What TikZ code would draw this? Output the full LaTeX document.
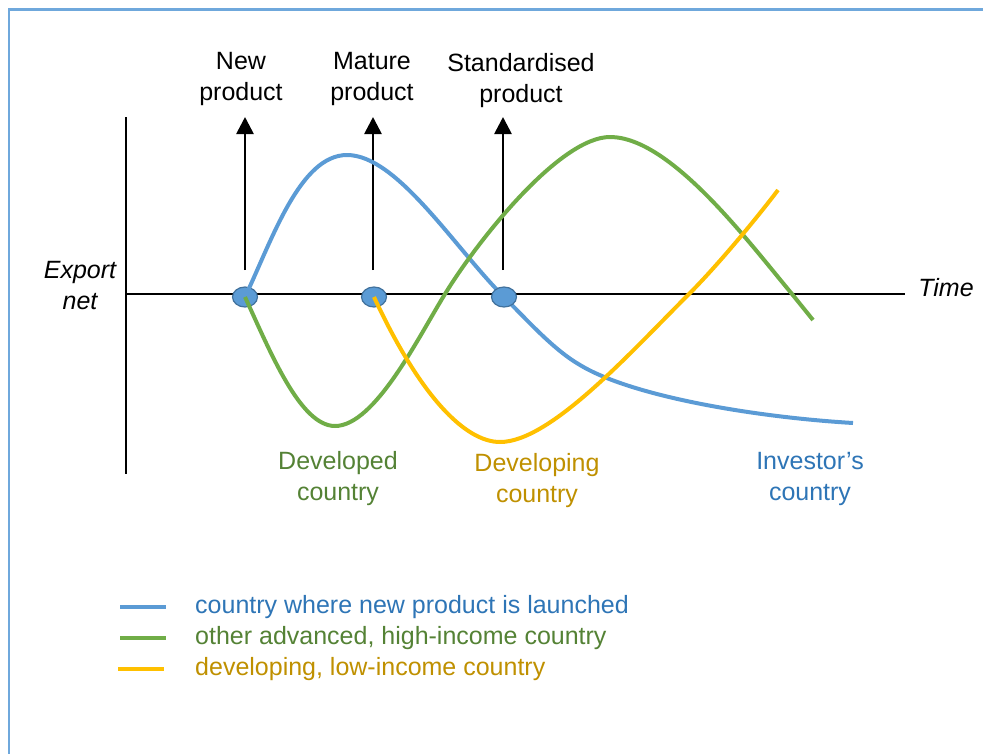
\documentclass[tikz,border=0pt]{standalone}
\usepackage{fontspec}
\setmainfont{Liberation Sans}
\usepackage{xcolor}
\usetikzlibrary{arrows.meta}
\usetikzlibrary{shapes.geometric}

\definecolor{lineblue}{HTML}{5B9BD5}
\definecolor{linegreen}{HTML}{70AD47}
\definecolor{lineyellow}{HTML}{FFC000}
\definecolor{textblue}{HTML}{2E75B6}
\definecolor{textgreen}{HTML}{548235}
\definecolor{textgold}{HTML}{BF9000}
\definecolor{dotedge}{HTML}{41719C}
\definecolor{framecol}{HTML}{6FA8DC}

\begin{document}
\begin{tikzpicture}[x=1pt,y=-1pt,font=\fontsize{25}{31}\selectfont,
	axis/.style={black,line width=2.7pt},
	stage/.style={-{Triangle[width=17pt,length=17pt]},black,line width=2.7pt},
	curve/.style={line width=4pt},
	dot/.style={ellipse,draw=dotedge,fill=lineblue,line width=1.2pt,minimum width=25pt,minimum height=20pt,inner sep=0pt},
	lbl/.style={align=center,inner sep=0pt}]
	\useasboundingbox (0,0) rectangle (983,753);
	\draw[framecol,line width=2.6pt] (9,760) -- (9,9.5) -- (990,9.5);

	% axes
	\draw[axis] (126,117) -- (126,474);
	\draw[axis] (126,294) -- (905,294);
	\node[lbl,font=\fontsize{25}{31}\selectfont\itshape] (xlab) at (946,288) {Time};
	\node[lbl,font=\fontsize{25}{31}\selectfont\itshape] (ylab) at (80,286) {Export\\net};

	% product stages
	\coordinate (s1) at (245,270);
	\coordinate (s2) at (373,270);
	\coordinate (s3) at (503,270);
	\coordinate (t1) at (245,117);
	\coordinate (t2) at (373,117);
	\coordinate (t3) at (503,117);
	\draw[stage] (s1) -- (t1);
	\draw[stage] (s2) -- (t2);
	\draw[stage] (s3) -- (t3);
	\node[lbl] (new) at (241,79) {New\\product};
	\node[lbl] (mature) at (372,79) {Mature\\product};
	\node[lbl] (std) at (521,81) {Standardised\\product};

	\node[dot] (d1) at (245,297) {};
	\node[dot] (d2) at (374,297) {};

	% the three countries
	\draw[curve,lineblue] (d1.center) .. controls (272,240) and (300,155) .. (347,155)
		.. controls (397,155) and (454,247) .. (504,297)
		.. controls (529,322) and (554,350) .. (580,365)
		.. controls (631,396) and (753,417) .. (853,423);
	\draw[curve,linegreen] (d1.center) .. controls (270,351) and (300,426) .. (335,426)
		.. controls (375,426) and (419,336) .. (445,294)
		.. controls (478,240) and (560,137) .. (610,137)
		.. controls (670,137) and (747,240) .. (792,294) -- (813,320);
	\draw[curve,lineyellow] (d2.center) .. controls (420,396) and (465,442) .. (500,442)
		.. controls (550,442) and (629,354) .. (689,294)
		.. controls (719,264) and (760,214) .. (778,190);

	\node[dot] (d3) at (504,297) {};

	\node[lbl,textgreen] (dev) at (338,479) {Developed\\country};
	\node[lbl,textgold] (devg) at (537,481) {Developing\\country};
	\node[lbl,textblue] (inv) at (810,479) {Investor’s\\country};

	% legend
	\coordinate (k1) at (120,607);
	\coordinate (k2) at (120,638);
	\coordinate (k3) at (118,669);
	\draw[curve,lineblue] (k1) -- ++(46,0);
	\draw[curve,linegreen] (k2) -- ++(46,0);
	\draw[curve,lineyellow] (k3) -- ++(46,0);
	\node[lbl,anchor=west,textblue] (e1) at (195,607) {country where new product is launched};
	\node[lbl,anchor=west,textgreen] (e2) at (195,638) {other advanced, high-income country};
	\node[lbl,anchor=west,textgold] (e3) at (195,669) {developing, low-income country};
\end{tikzpicture}
\end{document}
